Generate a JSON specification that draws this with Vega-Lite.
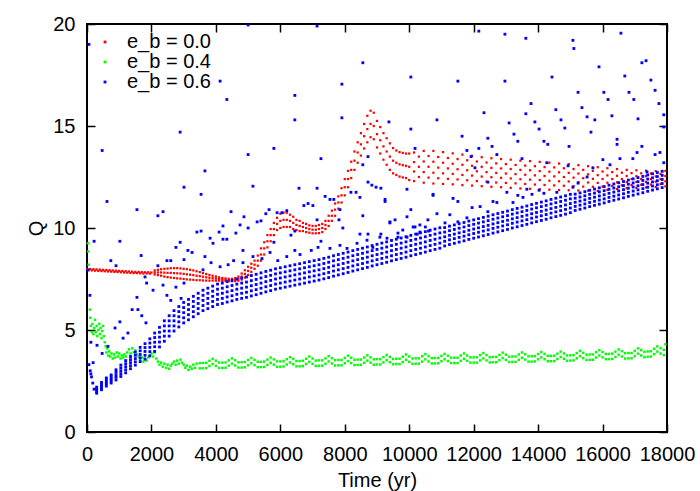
{
"$schema":"https://vega.github.io/schema/vega-lite/v6.json",
"width":580,"height":408,
"autosize":{"type":"none"},
"padding":{"left":87,"top":24,"right":33,"bottom":59},
"background":"white",
"config":{
"view":{"stroke":"black","strokeWidth":2},
"font":"Liberation Sans",
"axis":{"grid":false,"domain":false,"tickColor":"black","tickWidth":1.5,"tickSize":-8,"labelColor":"black","labelFont":"Liberation Sans","labelFontSize":20,"titleFont":"Liberation Sans","titleFontSize":20,"titleFontWeight":"normal","titleColor":"black","labelFlush":false,"labelOverlap":false,"labelBound":false},
"legend":{"orient":"top-left","offset":8,"padding":0,"labelFont":"Liberation Sans","labelFontSize":20,"labelColor":"black","symbolType":"square","symbolSize":8,"symbolStrokeWidth":0,"rowPadding":0,"labelOffset":12}
},
"datasets":{
"r":[
{"t":0,"Q":8.0},{"t":100,"Q":7.99},{"t":200,"Q":7.98},{"t":300,"Q":7.97},{"t":400,"Q":7.96},{"t":500,"Q":7.95},{"t":600,"Q":7.94},{"t":700,"Q":7.93},{"t":800,"Q":7.92},{"t":900,"Q":7.91},{"t":1000,"Q":7.9},{"t":1100,"Q":7.89},{"t":1200,"Q":7.88},{"t":1300,"Q":7.87},{"t":1400,"Q":7.86},{"t":1500,"Q":7.85},{"t":1600,"Q":7.85},{"t":1700,"Q":7.84},{"t":1800,"Q":7.83},{"t":1900,"Q":7.83},{"t":2000,"Q":7.82},
{"t":50,"Q":7.93},{"t":150,"Q":7.92},{"t":250,"Q":7.91},{"t":350,"Q":7.9},{"t":450,"Q":7.89},{"t":550,"Q":7.88},{"t":650,"Q":7.87},{"t":750,"Q":7.86},{"t":850,"Q":7.85},{"t":950,"Q":7.84},{"t":1050,"Q":7.83},{"t":1150,"Q":7.82},{"t":1250,"Q":7.81},{"t":1350,"Q":7.8},{"t":1450,"Q":7.79},{"t":1550,"Q":7.79},{"t":1650,"Q":7.78},{"t":1750,"Q":7.77},{"t":1850,"Q":7.77},{"t":1950,"Q":7.76},
{"t":2100,"Q":7.72},{"t":2100,"Q":7.82},{"t":2100,"Q":7.92},
{"t":2200,"Q":7.69},{"t":2200,"Q":7.82},{"t":2200,"Q":7.95},
{"t":2300,"Q":7.66},{"t":2300,"Q":7.82},{"t":2300,"Q":7.98},
{"t":2400,"Q":7.62},{"t":2400,"Q":7.81},{"t":2400,"Q":8.0},
{"t":2500,"Q":7.59},{"t":2500,"Q":7.8},{"t":2500,"Q":8.01},
{"t":2600,"Q":7.57},{"t":2600,"Q":7.8},{"t":2600,"Q":8.03},
{"t":2700,"Q":7.55},{"t":2700,"Q":7.79},{"t":2700,"Q":8.03},
{"t":2800,"Q":7.53},{"t":2800,"Q":7.78},{"t":2800,"Q":8.03},
{"t":2900,"Q":7.52},{"t":2900,"Q":7.77},{"t":2900,"Q":8.02},
{"t":3000,"Q":7.5},{"t":3000,"Q":7.75},{"t":3000,"Q":8.0},
{"t":3100,"Q":7.48},{"t":3100,"Q":7.73},{"t":3100,"Q":7.98},
{"t":3200,"Q":7.47},{"t":3200,"Q":7.71},{"t":3200,"Q":7.95},
{"t":3300,"Q":7.46},{"t":3300,"Q":7.69},{"t":3300,"Q":7.92},
{"t":3400,"Q":7.44},{"t":3400,"Q":7.66},{"t":3400,"Q":7.88},
{"t":3500,"Q":7.44},{"t":3500,"Q":7.64},{"t":3500,"Q":7.84},
{"t":3600,"Q":7.43},{"t":3600,"Q":7.61},{"t":3600,"Q":7.79},
{"t":3700,"Q":7.42},{"t":3700,"Q":7.58},{"t":3700,"Q":7.74},
{"t":3800,"Q":7.42},{"t":3800,"Q":7.56},{"t":3800,"Q":7.7},
{"t":3900,"Q":7.42},{"t":3900,"Q":7.54},{"t":3900,"Q":7.66},
{"t":4000,"Q":7.42},{"t":4000,"Q":7.52},{"t":4000,"Q":7.62},
{"t":4100,"Q":7.42},{"t":4100,"Q":7.5},{"t":4100,"Q":7.58},
{"t":4200,"Q":7.41},{"t":4200,"Q":7.48},{"t":4200,"Q":7.55},
{"t":4300,"Q":7.41},{"t":4300,"Q":7.47},{"t":4300,"Q":7.53},
{"t":4400,"Q":7.39},{"t":4400,"Q":7.45},{"t":4400,"Q":7.51},
{"t":4500,"Q":7.39},{"t":4500,"Q":7.45},{"t":4500,"Q":7.51},
{"t":4600,"Q":7.4},{"t":4600,"Q":7.47},{"t":4600,"Q":7.54},
{"t":4700,"Q":7.42},{"t":4700,"Q":7.52},{"t":4700,"Q":7.62},
{"t":4800,"Q":7.47},{"t":4800,"Q":7.62},{"t":4800,"Q":7.77},
{"t":4900,"Q":7.57},{"t":4900,"Q":7.75},{"t":4900,"Q":7.93},
{"t":5000,"Q":7.7},{"t":5000,"Q":7.9},{"t":5000,"Q":8.1},
{"t":5100,"Q":7.85},{"t":5100,"Q":8.05},{"t":5100,"Q":8.25},
{"t":5200,"Q":8.0},{"t":5200,"Q":8.2},{"t":5200,"Q":8.4},
{"t":5300,"Q":8.15},{"t":5300,"Q":8.4},{"t":5300,"Q":8.65},
{"t":5400,"Q":8.4},{"t":5400,"Q":8.7},{"t":5400,"Q":9.0},
{"t":5500,"Q":8.7},{"t":5500,"Q":9.0},{"t":5500,"Q":9.3},
{"t":5600,"Q":9.05},{"t":5600,"Q":9.35},{"t":5600,"Q":9.65},
{"t":5700,"Q":9.35},{"t":5700,"Q":9.65},{"t":5700,"Q":9.95},
{"t":5800,"Q":9.65},{"t":5800,"Q":9.95},{"t":5800,"Q":10.25},
{"t":5900,"Q":9.9},{"t":5900,"Q":10.2},{"t":5900,"Q":10.5},
{"t":6000,"Q":10.0},{"t":6000,"Q":10.35},{"t":6000,"Q":10.7},
{"t":6100,"Q":10.05},{"t":6100,"Q":10.4},{"t":6100,"Q":10.75},
{"t":6200,"Q":10.05},{"t":6200,"Q":10.4},{"t":6200,"Q":10.75},
{"t":6300,"Q":10.05},{"t":6300,"Q":10.35},{"t":6300,"Q":10.65},
{"t":6400,"Q":9.95},{"t":6400,"Q":10.25},{"t":6400,"Q":10.55},
{"t":6500,"Q":9.9},{"t":6500,"Q":10.15},{"t":6500,"Q":10.4},
{"t":6600,"Q":9.85},{"t":6600,"Q":10.1},{"t":6600,"Q":10.35},
{"t":6700,"Q":9.85},{"t":6700,"Q":10.05},{"t":6700,"Q":10.25},
{"t":6800,"Q":9.8},{"t":6800,"Q":10.0},{"t":6800,"Q":10.2},
{"t":6900,"Q":9.77},{"t":6900,"Q":9.95},{"t":6900,"Q":10.13},
{"t":7000,"Q":9.74},{"t":7000,"Q":9.92},{"t":7000,"Q":10.1},
{"t":7100,"Q":9.74},{"t":7100,"Q":9.92},{"t":7100,"Q":10.1},
{"t":7200,"Q":9.75},{"t":7200,"Q":9.95},{"t":7200,"Q":10.15},
{"t":7300,"Q":9.8},{"t":7300,"Q":10.0},{"t":7300,"Q":10.2},
{"t":7400,"Q":9.95},{"t":7400,"Q":10.15},{"t":7400,"Q":10.35},
{"t":7500,"Q":10.1},{"t":7500,"Q":10.35},{"t":7500,"Q":10.6},
{"t":7600,"Q":10.35},{"t":7600,"Q":10.6},{"t":7600,"Q":10.85},
{"t":7700,"Q":10.6},{"t":7700,"Q":10.9},{"t":7700,"Q":11.2},
{"t":7800,"Q":10.95},{"t":7800,"Q":11.25},{"t":7800,"Q":11.55},
{"t":7900,"Q":11.25},{"t":7900,"Q":11.6},{"t":7900,"Q":11.95},
{"t":8000,"Q":11.6},{"t":8000,"Q":12.0},{"t":8000,"Q":12.4},
{"t":8100,"Q":12.0},{"t":8100,"Q":12.4},{"t":8100,"Q":12.8},
{"t":8200,"Q":12.45},{"t":8200,"Q":12.85},{"t":8200,"Q":13.25},
{"t":8300,"Q":12.85},{"t":8300,"Q":13.3},{"t":8300,"Q":13.75},
{"t":8400,"Q":13.2},{"t":8400,"Q":13.7},{"t":8400,"Q":14.2},
{"t":8500,"Q":13.55},{"t":8500,"Q":14.1},{"t":8500,"Q":14.65},
{"t":8600,"Q":13.9},{"t":8600,"Q":14.5},{"t":8600,"Q":15.1},
{"t":8700,"Q":14.2},{"t":8700,"Q":14.85},{"t":8700,"Q":15.5},
{"t":8800,"Q":14.45},{"t":8800,"Q":15.1},{"t":8800,"Q":15.75},
{"t":8900,"Q":14.35},{"t":8900,"Q":15.0},{"t":8900,"Q":15.65},
{"t":9000,"Q":13.95},{"t":9000,"Q":14.6},{"t":9000,"Q":15.25},
{"t":9100,"Q":13.65},{"t":9100,"Q":14.3},{"t":9100,"Q":14.95},
{"t":9200,"Q":13.35},{"t":9200,"Q":14.0},{"t":9200,"Q":14.65},
{"t":9300,"Q":13.1},{"t":9300,"Q":13.75},{"t":9300,"Q":14.4},
{"t":9400,"Q":12.85},{"t":9400,"Q":13.5},{"t":9400,"Q":14.15},
{"t":9500,"Q":12.68},{"t":9500,"Q":13.3},{"t":9500,"Q":13.92},
{"t":9600,"Q":12.6},{"t":9600,"Q":13.2},{"t":9600,"Q":13.8},
{"t":9700,"Q":12.52},{"t":9700,"Q":13.12},{"t":9700,"Q":13.72},
{"t":9800,"Q":12.48},{"t":9800,"Q":13.08},{"t":9800,"Q":13.68},
{"t":9900,"Q":12.45},{"t":9900,"Q":13.05},{"t":9900,"Q":13.65},
{"t":10000,"Q":12.35},{"t":10000,"Q":13.0},{"t":10000,"Q":13.65},
{"t":10150,"Q":12.3},{"t":10150,"Q":12.77},{"t":10150,"Q":13.23},{"t":10150,"Q":13.7},
{"t":10300,"Q":12.5},{"t":10300,"Q":13.0},{"t":10300,"Q":13.5},
{"t":10450,"Q":12.22},{"t":10450,"Q":12.74},{"t":10450,"Q":13.26},{"t":10450,"Q":13.78},
{"t":10600,"Q":12.47},{"t":10600,"Q":13.0},{"t":10600,"Q":13.53},
{"t":10750,"Q":12.18},{"t":10750,"Q":12.71},{"t":10750,"Q":13.25},{"t":10750,"Q":13.78},
{"t":10900,"Q":12.44},{"t":10900,"Q":12.96},{"t":10900,"Q":13.48},
{"t":11050,"Q":12.16},{"t":11050,"Q":12.68},{"t":11050,"Q":13.2},{"t":11050,"Q":13.72},
{"t":11200,"Q":12.41},{"t":11200,"Q":12.92},{"t":11200,"Q":13.43},
{"t":11350,"Q":12.14},{"t":11350,"Q":12.65},{"t":11350,"Q":13.15},{"t":11350,"Q":13.66},
{"t":11500,"Q":12.38},{"t":11500,"Q":12.88},{"t":11500,"Q":13.38},
{"t":11650,"Q":12.1},{"t":11650,"Q":12.6},{"t":11650,"Q":13.1},{"t":11650,"Q":13.6},
{"t":11800,"Q":12.34},{"t":11800,"Q":12.83},{"t":11800,"Q":13.32},
{"t":11950,"Q":12.08},{"t":11950,"Q":12.57},{"t":11950,"Q":13.05},{"t":11950,"Q":13.54},
{"t":12100,"Q":12.3},{"t":12100,"Q":12.78},{"t":12100,"Q":13.26},
{"t":12250,"Q":12.05},{"t":12250,"Q":12.52},{"t":12250,"Q":13.0},{"t":12250,"Q":13.47},
{"t":12400,"Q":12.27},{"t":12400,"Q":12.74},{"t":12400,"Q":13.21},
{"t":12550,"Q":12.02},{"t":12550,"Q":12.49},{"t":12550,"Q":12.95},{"t":12550,"Q":13.42},
{"t":12700,"Q":12.23},{"t":12700,"Q":12.7},{"t":12700,"Q":13.17},
{"t":12850,"Q":12.0},{"t":12850,"Q":12.46},{"t":12850,"Q":12.92},{"t":12850,"Q":13.38},
{"t":13000,"Q":12.21},{"t":13000,"Q":12.67},{"t":13000,"Q":13.13},
{"t":13150,"Q":11.97},{"t":13150,"Q":12.43},{"t":13150,"Q":12.89},{"t":13150,"Q":13.35},
{"t":13300,"Q":12.19},{"t":13300,"Q":12.64},{"t":13300,"Q":13.09},
{"t":13450,"Q":11.94},{"t":13450,"Q":12.39},{"t":13450,"Q":12.85},{"t":13450,"Q":13.3},
{"t":13600,"Q":12.16},{"t":13600,"Q":12.61},{"t":13600,"Q":13.06},
{"t":13750,"Q":11.92},{"t":13750,"Q":12.37},{"t":13750,"Q":12.83},{"t":13750,"Q":13.28},
{"t":13900,"Q":12.13},{"t":13900,"Q":12.58},{"t":13900,"Q":13.03},
{"t":14050,"Q":11.9},{"t":14050,"Q":12.35},{"t":14050,"Q":12.79},{"t":14050,"Q":13.24},
{"t":14200,"Q":12.11},{"t":14200,"Q":12.55},{"t":14200,"Q":12.99},
{"t":14350,"Q":11.88},{"t":14350,"Q":12.32},{"t":14350,"Q":12.76},{"t":14350,"Q":13.2},
{"t":14500,"Q":12.09},{"t":14500,"Q":12.53},{"t":14500,"Q":12.97},
{"t":14650,"Q":11.86},{"t":14650,"Q":12.29},{"t":14650,"Q":12.73},{"t":14650,"Q":13.16},
{"t":14800,"Q":12.07},{"t":14800,"Q":12.5},{"t":14800,"Q":12.93},
{"t":14950,"Q":11.85},{"t":14950,"Q":12.28},{"t":14950,"Q":12.7},{"t":14950,"Q":13.13},
{"t":15100,"Q":12.05},{"t":15100,"Q":12.47},{"t":15100,"Q":12.89},
{"t":15250,"Q":11.84},{"t":15250,"Q":12.25},{"t":15250,"Q":12.67},{"t":15250,"Q":13.08},
{"t":15400,"Q":12.03},{"t":15400,"Q":12.44},{"t":15400,"Q":12.85},
{"t":15550,"Q":11.83},{"t":15550,"Q":12.23},{"t":15550,"Q":12.63},{"t":15550,"Q":13.03},
{"t":15700,"Q":12.02},{"t":15700,"Q":12.41},{"t":15700,"Q":12.8},
{"t":15850,"Q":11.82},{"t":15850,"Q":12.21},{"t":15850,"Q":12.59},{"t":15850,"Q":12.98},
{"t":16000,"Q":12.03},{"t":16000,"Q":12.4},{"t":16000,"Q":12.77},
{"t":16150,"Q":11.87},{"t":16150,"Q":12.22},{"t":16150,"Q":12.58},{"t":16150,"Q":12.93},
{"t":16300,"Q":12.06},{"t":16300,"Q":12.4},{"t":16300,"Q":12.74},
{"t":16450,"Q":11.91},{"t":16450,"Q":12.24},{"t":16450,"Q":12.56},{"t":16450,"Q":12.89},
{"t":16600,"Q":12.09},{"t":16600,"Q":12.4},{"t":16600,"Q":12.71},
{"t":16750,"Q":11.95},{"t":16750,"Q":12.25},{"t":16750,"Q":12.55},{"t":16750,"Q":12.85},
{"t":16900,"Q":12.11},{"t":16900,"Q":12.4},{"t":16900,"Q":12.69},
{"t":17050,"Q":11.97},{"t":17050,"Q":12.26},{"t":17050,"Q":12.54},{"t":17050,"Q":12.83},
{"t":17200,"Q":12.12},{"t":17200,"Q":12.4},{"t":17200,"Q":12.68},
{"t":17350,"Q":11.99},{"t":17350,"Q":12.26},{"t":17350,"Q":12.54},{"t":17350,"Q":12.81},
{"t":17500,"Q":12.13},{"t":17500,"Q":12.4},{"t":17500,"Q":12.67},
{"t":17650,"Q":12.01},{"t":17650,"Q":12.27},{"t":17650,"Q":12.53},{"t":17650,"Q":12.79},
{"t":17800,"Q":12.15},{"t":17800,"Q":12.4},{"t":17800,"Q":12.65},
{"t":17950,"Q":12.04},{"t":17950,"Q":12.29},{"t":17950,"Q":12.55},{"t":17950,"Q":12.8}
],
"g":[
{"t":30,"Q":9.25},{"t":40,"Q":8.85},{"t":50,"Q":8.2},{"t":90,"Q":6.0},
{"t":100,"Q":5.6},{"t":120,"Q":5.2},{"t":150,"Q":4.9},{"t":170,"Q":5.3},{"t":200,"Q":4.8},{"t":220,"Q":5.1},{"t":250,"Q":5.5},{"t":270,"Q":4.9},{"t":300,"Q":5.2},{"t":320,"Q":4.7},{"t":350,"Q":5.0},{"t":380,"Q":5.3},{"t":400,"Q":4.8},{"t":420,"Q":5.1},{"t":450,"Q":4.6},{"t":470,"Q":4.95},{"t":500,"Q":5.2},{"t":520,"Q":4.7},{"t":550,"Q":4.4},{"t":580,"Q":4.2},{"t":600,"Q":3.9},{"t":630,"Q":4.1},{"t":660,"Q":3.75},{"t":690,"Q":3.95},{"t":720,"Q":3.7},{"t":760,"Q":3.85},{"t":800,"Q":3.6},{"t":840,"Q":3.8},{"t":880,"Q":3.65},{"t":920,"Q":3.9},{"t":960,"Q":3.7},{"t":1000,"Q":3.85},{"t":1040,"Q":3.6},{"t":1080,"Q":3.75},{"t":1120,"Q":3.65},{"t":1160,"Q":3.8},{"t":1200,"Q":3.7},{"t":1250,"Q":3.9},{"t":1300,"Q":4.05},{"t":1350,"Q":3.85},{"t":1400,"Q":4.1},{"t":1450,"Q":3.9},{"t":1500,"Q":4.0},{"t":1550,"Q":3.8},{"t":1600,"Q":3.7},{"t":1650,"Q":3.55},{"t":1700,"Q":3.65},{"t":1750,"Q":3.45},{"t":1800,"Q":3.6},{"t":1850,"Q":3.5},{"t":1900,"Q":3.65},{"t":1950,"Q":3.75},{"t":2000,"Q":3.85},{"t":2050,"Q":3.7},{"t":2100,"Q":3.9},{"t":2150,"Q":3.6},{"t":2200,"Q":3.45},{"t":2250,"Q":3.3},{"t":2300,"Q":3.4},{"t":2350,"Q":3.2},{"t":2400,"Q":3.35},{"t":2450,"Q":3.15},{"t":2500,"Q":3.3},{"t":2550,"Q":3.1},{"t":2600,"Q":3.25},{"t":2650,"Q":3.35},{"t":2700,"Q":3.45},{"t":2750,"Q":3.3},{"t":2800,"Q":3.5},{"t":2850,"Q":3.35},{"t":2900,"Q":3.55},{"t":2950,"Q":3.4},{"t":3000,"Q":3.3},{"t":3050,"Q":3.15},{"t":3100,"Q":3.25},{"t":3150,"Q":3.05},{"t":3200,"Q":3.2},{"t":3250,"Q":3.1},{"t":3300,"Q":3.3},{"t":3350,"Q":3.15},{"t":3400,"Q":3.35},
{"t":3500,"Q":3.12},{"t":3500,"Q":3.38},{"t":3600,"Q":3.12},{"t":3600,"Q":3.38},{"t":3700,"Q":3.13},{"t":3700,"Q":3.39},{"t":3800,"Q":3.23},{"t":3800,"Q":3.49},{"t":3900,"Q":3.33},{"t":3900,"Q":3.59},{"t":4000,"Q":3.24},{"t":4000,"Q":3.5},{"t":4100,"Q":3.14},{"t":4100,"Q":3.4},{"t":4200,"Q":3.14},{"t":4200,"Q":3.4},{"t":4300,"Q":3.15},{"t":4300,"Q":3.41},{"t":4400,"Q":3.25},{"t":4400,"Q":3.51},{"t":4500,"Q":3.35},{"t":4500,"Q":3.61},{"t":4600,"Q":3.26},{"t":4600,"Q":3.52},{"t":4700,"Q":3.16},{"t":4700,"Q":3.42},{"t":4800,"Q":3.16},{"t":4800,"Q":3.42},{"t":4900,"Q":3.17},{"t":4900,"Q":3.43},
{"t":5000,"Q":3.27},{"t":5000,"Q":3.53},{"t":5100,"Q":3.37},{"t":5100,"Q":3.63},{"t":5200,"Q":3.28},{"t":5200,"Q":3.54},{"t":5300,"Q":3.18},{"t":5300,"Q":3.44},{"t":5400,"Q":3.18},{"t":5400,"Q":3.44},{"t":5500,"Q":3.19},{"t":5500,"Q":3.45},{"t":5600,"Q":3.29},{"t":5600,"Q":3.55},{"t":5700,"Q":3.39},{"t":5700,"Q":3.65},{"t":5800,"Q":3.3},{"t":5800,"Q":3.56},{"t":5900,"Q":3.2},{"t":5900,"Q":3.46},
{"t":6000,"Q":3.2},{"t":6000,"Q":3.46},{"t":6100,"Q":3.21},{"t":6100,"Q":3.47},{"t":6200,"Q":3.31},{"t":6200,"Q":3.57},{"t":6300,"Q":3.41},{"t":6300,"Q":3.67},{"t":6400,"Q":3.32},{"t":6400,"Q":3.58},{"t":6500,"Q":3.22},{"t":6500,"Q":3.48},{"t":6600,"Q":3.22},{"t":6600,"Q":3.48},{"t":6700,"Q":3.23},{"t":6700,"Q":3.49},{"t":6800,"Q":3.33},{"t":6800,"Q":3.59},{"t":6900,"Q":3.44},{"t":6900,"Q":3.7},
{"t":7000,"Q":3.34},{"t":7000,"Q":3.6},{"t":7100,"Q":3.24},{"t":7100,"Q":3.5},{"t":7200,"Q":3.25},{"t":7200,"Q":3.51},{"t":7300,"Q":3.25},{"t":7300,"Q":3.51},{"t":7400,"Q":3.35},{"t":7400,"Q":3.61},{"t":7500,"Q":3.46},{"t":7500,"Q":3.72},{"t":7600,"Q":3.36},{"t":7600,"Q":3.62},{"t":7700,"Q":3.26},{"t":7700,"Q":3.52},{"t":7800,"Q":3.27},{"t":7800,"Q":3.53},{"t":7900,"Q":3.27},{"t":7900,"Q":3.53},
{"t":8000,"Q":3.37},{"t":8000,"Q":3.63},{"t":8100,"Q":3.48},{"t":8100,"Q":3.74},{"t":8200,"Q":3.38},{"t":8200,"Q":3.64},{"t":8300,"Q":3.28},{"t":8300,"Q":3.54},{"t":8400,"Q":3.29},{"t":8400,"Q":3.55},{"t":8500,"Q":3.29},{"t":8500,"Q":3.55},{"t":8600,"Q":3.39},{"t":8600,"Q":3.65},{"t":8700,"Q":3.5},{"t":8700,"Q":3.76},{"t":8800,"Q":3.4},{"t":8800,"Q":3.66},{"t":8900,"Q":3.3},{"t":8900,"Q":3.56},
{"t":9000,"Q":3.31},{"t":9000,"Q":3.57},{"t":9100,"Q":3.31},{"t":9100,"Q":3.57},{"t":9200,"Q":3.41},{"t":9200,"Q":3.67},{"t":9300,"Q":3.52},{"t":9300,"Q":3.78},{"t":9400,"Q":3.42},{"t":9400,"Q":3.68},{"t":9500,"Q":3.32},{"t":9500,"Q":3.58},{"t":9600,"Q":3.33},{"t":9600,"Q":3.59},{"t":9700,"Q":3.33},{"t":9700,"Q":3.59},{"t":9800,"Q":3.43},{"t":9800,"Q":3.69},{"t":9900,"Q":3.54},{"t":9900,"Q":3.8},
{"t":10000,"Q":3.44},{"t":10000,"Q":3.7},{"t":10100,"Q":3.34},{"t":10100,"Q":3.6},{"t":10200,"Q":3.35},{"t":10200,"Q":3.61},{"t":10300,"Q":3.35},{"t":10300,"Q":3.61},{"t":10400,"Q":3.45},{"t":10400,"Q":3.71},{"t":10500,"Q":3.56},{"t":10500,"Q":3.82},{"t":10600,"Q":3.46},{"t":10600,"Q":3.72},{"t":10700,"Q":3.36},{"t":10700,"Q":3.62},{"t":10800,"Q":3.36},{"t":10800,"Q":3.62},{"t":10900,"Q":3.37},{"t":10900,"Q":3.63},
{"t":11000,"Q":3.47},{"t":11000,"Q":3.73},{"t":11100,"Q":3.57},{"t":11100,"Q":3.83},{"t":11200,"Q":3.48},{"t":11200,"Q":3.74},{"t":11300,"Q":3.38},{"t":11300,"Q":3.64},{"t":11400,"Q":3.38},{"t":11400,"Q":3.64},{"t":11500,"Q":3.38},{"t":11500,"Q":3.64},{"t":11600,"Q":3.49},{"t":11600,"Q":3.75},{"t":11700,"Q":3.59},{"t":11700,"Q":3.85},{"t":11800,"Q":3.49},{"t":11800,"Q":3.75},{"t":11900,"Q":3.4},{"t":11900,"Q":3.66},
{"t":12000,"Q":3.4},{"t":12000,"Q":3.66},{"t":12100,"Q":3.4},{"t":12100,"Q":3.66},{"t":12200,"Q":3.51},{"t":12200,"Q":3.77},{"t":12300,"Q":3.61},{"t":12300,"Q":3.87},{"t":12400,"Q":3.51},{"t":12400,"Q":3.77},{"t":12500,"Q":3.41},{"t":12500,"Q":3.67},{"t":12600,"Q":3.42},{"t":12600,"Q":3.68},{"t":12700,"Q":3.42},{"t":12700,"Q":3.68},{"t":12800,"Q":3.52},{"t":12800,"Q":3.78},{"t":12900,"Q":3.63},{"t":12900,"Q":3.89},
{"t":13000,"Q":3.53},{"t":13000,"Q":3.79},{"t":13100,"Q":3.43},{"t":13100,"Q":3.69},{"t":13200,"Q":3.44},{"t":13200,"Q":3.7},{"t":13300,"Q":3.44},{"t":13300,"Q":3.7},{"t":13400,"Q":3.54},{"t":13400,"Q":3.8},{"t":13500,"Q":3.64},{"t":13500,"Q":3.9},{"t":13600,"Q":3.55},{"t":13600,"Q":3.81},{"t":13700,"Q":3.45},{"t":13700,"Q":3.71},{"t":13800,"Q":3.45},{"t":13800,"Q":3.71},{"t":13900,"Q":3.46},{"t":13900,"Q":3.72},
{"t":14000,"Q":3.56},{"t":14000,"Q":3.82},{"t":14100,"Q":3.66},{"t":14100,"Q":3.92},{"t":14200,"Q":3.57},{"t":14200,"Q":3.83},{"t":14300,"Q":3.47},{"t":14300,"Q":3.73},{"t":14400,"Q":3.47},{"t":14400,"Q":3.73},{"t":14500,"Q":3.48},{"t":14500,"Q":3.74},{"t":14600,"Q":3.58},{"t":14600,"Q":3.84},{"t":14700,"Q":3.68},{"t":14700,"Q":3.94},{"t":14800,"Q":3.59},{"t":14800,"Q":3.85},{"t":14900,"Q":3.49},{"t":14900,"Q":3.75},
{"t":15000,"Q":3.5},{"t":15000,"Q":3.76},{"t":15100,"Q":3.51},{"t":15100,"Q":3.77},{"t":15200,"Q":3.61},{"t":15200,"Q":3.87},{"t":15300,"Q":3.72},{"t":15300,"Q":3.98},{"t":15400,"Q":3.62},{"t":15400,"Q":3.88},{"t":15500,"Q":3.53},{"t":15500,"Q":3.79},{"t":15600,"Q":3.54},{"t":15600,"Q":3.8},{"t":15700,"Q":3.54},{"t":15700,"Q":3.8},{"t":15800,"Q":3.65},{"t":15800,"Q":3.91},{"t":15900,"Q":3.75},{"t":15900,"Q":4.01},
{"t":16000,"Q":3.66},{"t":16000,"Q":3.92},{"t":16100,"Q":3.57},{"t":16100,"Q":3.83},{"t":16200,"Q":3.57},{"t":16200,"Q":3.83},{"t":16300,"Q":3.58},{"t":16300,"Q":3.84},{"t":16400,"Q":3.68},{"t":16400,"Q":3.94},{"t":16500,"Q":3.79},{"t":16500,"Q":4.05},{"t":16600,"Q":3.7},{"t":16600,"Q":3.96},{"t":16700,"Q":3.6},{"t":16700,"Q":3.86},{"t":16800,"Q":3.61},{"t":16800,"Q":3.87},{"t":16900,"Q":3.61},{"t":16900,"Q":3.87},
{"t":17000,"Q":3.72},{"t":17000,"Q":3.98},{"t":17100,"Q":3.84},{"t":17100,"Q":4.1},{"t":17200,"Q":3.75},{"t":17200,"Q":4.01},{"t":17300,"Q":3.67},{"t":17300,"Q":3.93},{"t":17400,"Q":3.69},{"t":17400,"Q":3.95},{"t":17500,"Q":3.7},{"t":17500,"Q":3.96},{"t":17600,"Q":3.82},{"t":17600,"Q":4.08},{"t":17700,"Q":3.94},{"t":17700,"Q":4.2},{"t":17800,"Q":3.85},{"t":17800,"Q":4.11},{"t":17900,"Q":3.77},{"t":17900,"Q":4.03},{"t":17950,"Q":4.3}
],
"b":[
{"t":300,"Q":1.9},{"t":300,"Q":1.98},{"t":300,"Q":2.05},{"t":300,"Q":2.13},{"t":300,"Q":2.2},
{"t":450,"Q":2.07},{"t":450,"Q":2.16},{"t":450,"Q":2.25},{"t":450,"Q":2.34},{"t":450,"Q":2.43},
{"t":600,"Q":2.25},{"t":600,"Q":2.35},{"t":600,"Q":2.45},{"t":600,"Q":2.55},{"t":600,"Q":2.65},
{"t":750,"Q":2.4},{"t":750,"Q":2.5},{"t":750,"Q":2.6},{"t":750,"Q":2.7},{"t":750,"Q":2.8},
{"t":900,"Q":2.55},{"t":900,"Q":2.68},{"t":900,"Q":2.8},{"t":900,"Q":2.93},{"t":900,"Q":3.05},
{"t":1050,"Q":2.72},{"t":1050,"Q":2.86},{"t":1050,"Q":3.0},{"t":1050,"Q":3.14},{"t":1050,"Q":3.28},
{"t":1200,"Q":2.9},{"t":1200,"Q":3.05},{"t":1200,"Q":3.2},{"t":1200,"Q":3.35},{"t":1200,"Q":3.5},
{"t":1350,"Q":3.1},{"t":1350,"Q":3.25},{"t":1350,"Q":3.4},{"t":1350,"Q":3.55},{"t":1350,"Q":3.7},
{"t":1500,"Q":3.28},{"t":1500,"Q":3.44},{"t":1500,"Q":3.6},{"t":1500,"Q":3.76},{"t":1500,"Q":3.92},
{"t":1650,"Q":3.45},{"t":1650,"Q":3.63},{"t":1650,"Q":3.8},{"t":1650,"Q":3.98},{"t":1650,"Q":4.15},
{"t":1800,"Q":3.57},{"t":1800,"Q":3.76},{"t":1800,"Q":3.95},{"t":1800,"Q":4.14},{"t":1800,"Q":4.33},
{"t":1950,"Q":3.73},{"t":1950,"Q":3.94},{"t":1950,"Q":4.15},{"t":1950,"Q":4.36},{"t":1950,"Q":4.57},
{"t":2100,"Q":3.95},{"t":2100,"Q":4.18},{"t":2100,"Q":4.4},{"t":2100,"Q":4.63},{"t":2100,"Q":4.85},
{"t":2250,"Q":4.17},{"t":2250,"Q":4.41},{"t":2250,"Q":4.65},{"t":2250,"Q":4.89},{"t":2250,"Q":5.13},
{"t":2400,"Q":4.45},{"t":2400,"Q":4.7},{"t":2400,"Q":4.95},{"t":2400,"Q":5.2},{"t":2400,"Q":5.45},
{"t":2550,"Q":4.7},{"t":2550,"Q":4.95},{"t":2550,"Q":5.2},{"t":2550,"Q":5.45},{"t":2550,"Q":5.7},
{"t":2700,"Q":4.95},{"t":2700,"Q":5.2},{"t":2700,"Q":5.45},{"t":2700,"Q":5.7},{"t":2700,"Q":5.95},
{"t":2850,"Q":5.15},{"t":2850,"Q":5.4},{"t":2850,"Q":5.65},{"t":2850,"Q":5.9},{"t":2850,"Q":6.15},
{"t":3000,"Q":5.35},{"t":3000,"Q":5.6},{"t":3000,"Q":5.85},{"t":3000,"Q":6.1},{"t":3000,"Q":6.35},
{"t":3150,"Q":5.5},{"t":3150,"Q":5.75},{"t":3150,"Q":6.0},{"t":3150,"Q":6.25},{"t":3150,"Q":6.5},
{"t":3300,"Q":5.65},{"t":3300,"Q":5.9},{"t":3300,"Q":6.15},{"t":3300,"Q":6.4},{"t":3300,"Q":6.65},
{"t":3450,"Q":5.8},{"t":3450,"Q":6.05},{"t":3450,"Q":6.3},{"t":3450,"Q":6.55},{"t":3450,"Q":6.8},
{"t":3600,"Q":5.95},{"t":3600,"Q":6.2},{"t":3600,"Q":6.45},{"t":3600,"Q":6.7},{"t":3600,"Q":6.95},
{"t":3750,"Q":6.05},{"t":3750,"Q":6.3},{"t":3750,"Q":6.55},{"t":3750,"Q":6.8},{"t":3750,"Q":7.05},
{"t":3900,"Q":6.15},{"t":3900,"Q":6.4},{"t":3900,"Q":6.65},{"t":3900,"Q":6.9},{"t":3900,"Q":7.15},
{"t":4050,"Q":6.25},{"t":4050,"Q":6.5},{"t":4050,"Q":6.75},{"t":4050,"Q":7.0},{"t":4050,"Q":7.25},
{"t":4200,"Q":6.3},{"t":4200,"Q":6.55},{"t":4200,"Q":6.8},{"t":4200,"Q":7.05},{"t":4200,"Q":7.3},
{"t":4350,"Q":6.37},{"t":4350,"Q":6.62},{"t":4350,"Q":6.87},{"t":4350,"Q":7.12},{"t":4350,"Q":7.37},
{"t":4500,"Q":6.43},{"t":4500,"Q":6.68},{"t":4500,"Q":6.93},{"t":4500,"Q":7.18},{"t":4500,"Q":7.43},
{"t":4650,"Q":6.5},{"t":4650,"Q":6.75},{"t":4650,"Q":7.0},{"t":4650,"Q":7.25},{"t":4650,"Q":7.5},
{"t":4800,"Q":6.55},{"t":4800,"Q":6.8},{"t":4800,"Q":7.05},{"t":4800,"Q":7.3},{"t":4800,"Q":7.55},
{"t":4950,"Q":6.6},{"t":4950,"Q":6.85},{"t":4950,"Q":7.1},{"t":4950,"Q":7.35},{"t":4950,"Q":7.6},
{"t":5100,"Q":6.67},{"t":5100,"Q":6.92},{"t":5100,"Q":7.17},{"t":5100,"Q":7.42},{"t":5100,"Q":7.67},
{"t":5250,"Q":6.73},{"t":5250,"Q":6.98},{"t":5250,"Q":7.23},{"t":5250,"Q":7.48},{"t":5250,"Q":7.73},
{"t":5400,"Q":6.8},{"t":5400,"Q":7.05},{"t":5400,"Q":7.3},{"t":5400,"Q":7.55},{"t":5400,"Q":7.8},
{"t":5550,"Q":6.87},{"t":5550,"Q":7.12},{"t":5550,"Q":7.37},{"t":5550,"Q":7.62},{"t":5550,"Q":7.87},
{"t":5700,"Q":6.93},{"t":5700,"Q":7.18},{"t":5700,"Q":7.43},{"t":5700,"Q":7.68},{"t":5700,"Q":7.93},
{"t":5850,"Q":7.0},{"t":5850,"Q":7.25},{"t":5850,"Q":7.5},{"t":5850,"Q":7.75},{"t":5850,"Q":8.0},
{"t":6000,"Q":7.05},{"t":6000,"Q":7.3},{"t":6000,"Q":7.55},{"t":6000,"Q":7.8},{"t":6000,"Q":8.05},
{"t":6150,"Q":7.1},{"t":6150,"Q":7.35},{"t":6150,"Q":7.6},{"t":6150,"Q":7.85},{"t":6150,"Q":8.1},
{"t":6300,"Q":7.15},{"t":6300,"Q":7.4},{"t":6300,"Q":7.65},{"t":6300,"Q":7.9},{"t":6300,"Q":8.15},
{"t":6450,"Q":7.2},{"t":6450,"Q":7.45},{"t":6450,"Q":7.7},{"t":6450,"Q":7.95},{"t":6450,"Q":8.2},
{"t":6600,"Q":7.25},{"t":6600,"Q":7.5},{"t":6600,"Q":7.75},{"t":6600,"Q":8.0},{"t":6600,"Q":8.25},
{"t":6750,"Q":7.3},{"t":6750,"Q":7.55},{"t":6750,"Q":7.8},{"t":6750,"Q":8.05},{"t":6750,"Q":8.3},
{"t":6900,"Q":7.35},{"t":6900,"Q":7.6},{"t":6900,"Q":7.85},{"t":6900,"Q":8.1},{"t":6900,"Q":8.35},
{"t":7050,"Q":7.4},{"t":7050,"Q":7.65},{"t":7050,"Q":7.9},{"t":7050,"Q":8.15},{"t":7050,"Q":8.4},
{"t":7200,"Q":7.45},{"t":7200,"Q":7.7},{"t":7200,"Q":7.95},{"t":7200,"Q":8.2},{"t":7200,"Q":8.45},
{"t":7350,"Q":7.51},{"t":7350,"Q":7.76},{"t":7350,"Q":8.01},{"t":7350,"Q":8.26},{"t":7350,"Q":8.51},
{"t":7500,"Q":7.57},{"t":7500,"Q":7.82},{"t":7500,"Q":8.07},{"t":7500,"Q":8.32},{"t":7500,"Q":8.57},
{"t":7650,"Q":7.64},{"t":7650,"Q":7.89},{"t":7650,"Q":8.14},{"t":7650,"Q":8.39},{"t":7650,"Q":8.64},
{"t":7800,"Q":7.7},{"t":7800,"Q":7.95},{"t":7800,"Q":8.2},{"t":7800,"Q":8.45},{"t":7800,"Q":8.7},
{"t":7950,"Q":7.76},{"t":7950,"Q":8.01},{"t":7950,"Q":8.26},{"t":7950,"Q":8.51},{"t":7950,"Q":8.76},
{"t":8100,"Q":7.82},{"t":8100,"Q":8.07},{"t":8100,"Q":8.32},{"t":8100,"Q":8.57},{"t":8100,"Q":8.82},
{"t":8250,"Q":7.89},{"t":8250,"Q":8.14},{"t":8250,"Q":8.39},{"t":8250,"Q":8.64},{"t":8250,"Q":8.89},
{"t":8400,"Q":7.95},{"t":8400,"Q":8.2},{"t":8400,"Q":8.45},{"t":8400,"Q":8.7},{"t":8400,"Q":8.95},
{"t":8550,"Q":8.01},{"t":8550,"Q":8.26},{"t":8550,"Q":8.51},{"t":8550,"Q":8.76},{"t":8550,"Q":9.01},
{"t":8700,"Q":8.07},{"t":8700,"Q":8.32},{"t":8700,"Q":8.57},{"t":8700,"Q":8.82},{"t":8700,"Q":9.07},
{"t":8850,"Q":8.14},{"t":8850,"Q":8.39},{"t":8850,"Q":8.64},{"t":8850,"Q":8.89},{"t":8850,"Q":9.14},
{"t":9000,"Q":8.2},{"t":9000,"Q":8.45},{"t":9000,"Q":8.7},{"t":9000,"Q":8.95},{"t":9000,"Q":9.2},
{"t":9150,"Q":8.26},{"t":9150,"Q":8.51},{"t":9150,"Q":8.76},{"t":9150,"Q":9.01},{"t":9150,"Q":9.26},
{"t":9300,"Q":8.32},{"t":9300,"Q":8.57},{"t":9300,"Q":8.82},{"t":9300,"Q":9.07},{"t":9300,"Q":9.32},
{"t":9450,"Q":8.39},{"t":9450,"Q":8.64},{"t":9450,"Q":8.89},{"t":9450,"Q":9.14},{"t":9450,"Q":9.39},
{"t":9600,"Q":8.45},{"t":9600,"Q":8.7},{"t":9600,"Q":8.95},{"t":9600,"Q":9.2},{"t":9600,"Q":9.45},
{"t":9750,"Q":8.51},{"t":9750,"Q":8.76},{"t":9750,"Q":9.01},{"t":9750,"Q":9.26},{"t":9750,"Q":9.51},
{"t":9900,"Q":8.57},{"t":9900,"Q":8.82},{"t":9900,"Q":9.07},{"t":9900,"Q":9.32},{"t":9900,"Q":9.57},
{"t":10050,"Q":8.64},{"t":10050,"Q":8.89},{"t":10050,"Q":9.14},{"t":10050,"Q":9.39},{"t":10050,"Q":9.64},
{"t":10200,"Q":8.7},{"t":10200,"Q":8.95},{"t":10200,"Q":9.2},{"t":10200,"Q":9.45},{"t":10200,"Q":9.7},
{"t":10350,"Q":8.76},{"t":10350,"Q":9.01},{"t":10350,"Q":9.26},{"t":10350,"Q":9.51},{"t":10350,"Q":9.76},
{"t":10500,"Q":8.82},{"t":10500,"Q":9.07},{"t":10500,"Q":9.32},{"t":10500,"Q":9.57},{"t":10500,"Q":9.82},
{"t":10650,"Q":8.89},{"t":10650,"Q":9.14},{"t":10650,"Q":9.39},{"t":10650,"Q":9.64},{"t":10650,"Q":9.89},
{"t":10800,"Q":8.95},{"t":10800,"Q":9.2},{"t":10800,"Q":9.45},{"t":10800,"Q":9.7},{"t":10800,"Q":9.95},
{"t":10950,"Q":9.01},{"t":10950,"Q":9.26},{"t":10950,"Q":9.51},{"t":10950,"Q":9.76},{"t":10950,"Q":10.01},
{"t":11100,"Q":9.12},{"t":11100,"Q":9.35},{"t":11100,"Q":9.57},{"t":11100,"Q":9.8},{"t":11100,"Q":10.02},
{"t":11250,"Q":9.19},{"t":11250,"Q":9.42},{"t":11250,"Q":9.64},{"t":11250,"Q":9.87},{"t":11250,"Q":10.09},
{"t":11400,"Q":9.25},{"t":11400,"Q":9.48},{"t":11400,"Q":9.7},{"t":11400,"Q":9.93},{"t":11400,"Q":10.15},
{"t":11550,"Q":9.31},{"t":11550,"Q":9.54},{"t":11550,"Q":9.76},{"t":11550,"Q":9.99},{"t":11550,"Q":10.21},
{"t":11700,"Q":9.37},{"t":11700,"Q":9.6},{"t":11700,"Q":9.82},{"t":11700,"Q":10.05},{"t":11700,"Q":10.27},
{"t":11850,"Q":9.44},{"t":11850,"Q":9.67},{"t":11850,"Q":9.89},{"t":11850,"Q":10.12},{"t":11850,"Q":10.34},
{"t":12000,"Q":9.5},{"t":12000,"Q":9.73},{"t":12000,"Q":9.95},{"t":12000,"Q":10.18},{"t":12000,"Q":10.4},
{"t":12150,"Q":9.56},{"t":12150,"Q":9.79},{"t":12150,"Q":10.01},{"t":12150,"Q":10.24},{"t":12150,"Q":10.46},
{"t":12300,"Q":9.62},{"t":12300,"Q":9.85},{"t":12300,"Q":10.07},{"t":12300,"Q":10.3},{"t":12300,"Q":10.52},
{"t":12450,"Q":9.68},{"t":12450,"Q":9.91},{"t":12450,"Q":10.13},{"t":12450,"Q":10.36},{"t":12450,"Q":10.58},
{"t":12600,"Q":9.75},{"t":12600,"Q":9.98},{"t":12600,"Q":10.2},{"t":12600,"Q":10.43},{"t":12600,"Q":10.65},
{"t":12750,"Q":9.81},{"t":12750,"Q":10.04},{"t":12750,"Q":10.26},{"t":12750,"Q":10.49},{"t":12750,"Q":10.71},
{"t":12900,"Q":9.87},{"t":12900,"Q":10.1},{"t":12900,"Q":10.32},{"t":12900,"Q":10.55},{"t":12900,"Q":10.77},
{"t":13050,"Q":9.93},{"t":13050,"Q":10.16},{"t":13050,"Q":10.38},{"t":13050,"Q":10.61},{"t":13050,"Q":10.83},
{"t":13200,"Q":10.0},{"t":13200,"Q":10.23},{"t":13200,"Q":10.45},{"t":13200,"Q":10.68},{"t":13200,"Q":10.9},
{"t":13350,"Q":10.06},{"t":13350,"Q":10.29},{"t":13350,"Q":10.51},{"t":13350,"Q":10.74},{"t":13350,"Q":10.96},
{"t":13500,"Q":10.12},{"t":13500,"Q":10.35},{"t":13500,"Q":10.57},{"t":13500,"Q":10.8},{"t":13500,"Q":11.02},
{"t":13650,"Q":10.18},{"t":13650,"Q":10.41},{"t":13650,"Q":10.63},{"t":13650,"Q":10.86},{"t":13650,"Q":11.08},
{"t":13800,"Q":10.25},{"t":13800,"Q":10.48},{"t":13800,"Q":10.7},{"t":13800,"Q":10.93},{"t":13800,"Q":11.15},
{"t":13950,"Q":10.31},{"t":13950,"Q":10.54},{"t":13950,"Q":10.76},{"t":13950,"Q":10.99},{"t":13950,"Q":11.21},
{"t":14100,"Q":10.37},{"t":14100,"Q":10.6},{"t":14100,"Q":10.82},{"t":14100,"Q":11.05},{"t":14100,"Q":11.27},
{"t":14250,"Q":10.43},{"t":14250,"Q":10.66},{"t":14250,"Q":10.88},{"t":14250,"Q":11.11},{"t":14250,"Q":11.33},
{"t":14400,"Q":10.5},{"t":14400,"Q":10.73},{"t":14400,"Q":10.95},{"t":14400,"Q":11.18},{"t":14400,"Q":11.4},
{"t":14550,"Q":10.56},{"t":14550,"Q":10.79},{"t":14550,"Q":11.01},{"t":14550,"Q":11.24},{"t":14550,"Q":11.46},
{"t":14700,"Q":10.62},{"t":14700,"Q":10.85},{"t":14700,"Q":11.07},{"t":14700,"Q":11.3},{"t":14700,"Q":11.52},
{"t":14850,"Q":10.68},{"t":14850,"Q":10.91},{"t":14850,"Q":11.13},{"t":14850,"Q":11.36},{"t":14850,"Q":11.58},
{"t":15000,"Q":10.75},{"t":15000,"Q":10.98},{"t":15000,"Q":11.2},{"t":15000,"Q":11.43},{"t":15000,"Q":11.65},
{"t":15150,"Q":10.86},{"t":15150,"Q":11.06},{"t":15150,"Q":11.26},{"t":15150,"Q":11.46},{"t":15150,"Q":11.66},
{"t":15300,"Q":10.92},{"t":15300,"Q":11.12},{"t":15300,"Q":11.32},{"t":15300,"Q":11.52},{"t":15300,"Q":11.72},
{"t":15450,"Q":10.98},{"t":15450,"Q":11.18},{"t":15450,"Q":11.38},{"t":15450,"Q":11.58},{"t":15450,"Q":11.78},
{"t":15600,"Q":11.05},{"t":15600,"Q":11.25},{"t":15600,"Q":11.45},{"t":15600,"Q":11.65},{"t":15600,"Q":11.85},
{"t":15750,"Q":11.11},{"t":15750,"Q":11.31},{"t":15750,"Q":11.51},{"t":15750,"Q":11.71},{"t":15750,"Q":11.91},
{"t":15900,"Q":11.17},{"t":15900,"Q":11.37},{"t":15900,"Q":11.57},{"t":15900,"Q":11.77},{"t":15900,"Q":11.97},
{"t":16050,"Q":11.23},{"t":16050,"Q":11.43},{"t":16050,"Q":11.63},{"t":16050,"Q":11.83},{"t":16050,"Q":12.03},
{"t":16200,"Q":11.3},{"t":16200,"Q":11.5},{"t":16200,"Q":11.7},{"t":16200,"Q":11.9},{"t":16200,"Q":12.1},
{"t":16350,"Q":11.36},{"t":16350,"Q":11.56},{"t":16350,"Q":11.76},{"t":16350,"Q":11.96},{"t":16350,"Q":12.16},
{"t":16500,"Q":11.42},{"t":16500,"Q":11.62},{"t":16500,"Q":11.82},{"t":16500,"Q":12.02},{"t":16500,"Q":12.22},
{"t":16650,"Q":11.48},{"t":16650,"Q":11.68},{"t":16650,"Q":11.88},{"t":16650,"Q":12.08},{"t":16650,"Q":12.28},
{"t":16800,"Q":11.55},{"t":16800,"Q":11.75},{"t":16800,"Q":11.95},{"t":16800,"Q":12.15},{"t":16800,"Q":12.35},
{"t":16950,"Q":11.61},{"t":16950,"Q":11.81},{"t":16950,"Q":12.01},{"t":16950,"Q":12.21},{"t":16950,"Q":12.41},
{"t":17100,"Q":11.67},{"t":17100,"Q":11.87},{"t":17100,"Q":12.07},{"t":17100,"Q":12.27},{"t":17100,"Q":12.47},
{"t":17250,"Q":11.73},{"t":17250,"Q":11.93},{"t":17250,"Q":12.13},{"t":17250,"Q":12.33},{"t":17250,"Q":12.53},
{"t":17400,"Q":11.8},{"t":17400,"Q":12.0},{"t":17400,"Q":12.2},{"t":17400,"Q":12.4},{"t":17400,"Q":12.6},
{"t":17550,"Q":11.86},{"t":17550,"Q":12.06},{"t":17550,"Q":12.26},{"t":17550,"Q":12.46},{"t":17550,"Q":12.66},
{"t":17700,"Q":11.92},{"t":17700,"Q":12.12},{"t":17700,"Q":12.32},{"t":17700,"Q":12.52},{"t":17700,"Q":12.72},
{"t":17850,"Q":11.98},{"t":17850,"Q":12.18},{"t":17850,"Q":12.38},{"t":17850,"Q":12.58},{"t":17850,"Q":12.78},
{"t":60,"Q":3.3},{"t":100,"Q":3.0},{"t":140,"Q":2.7},{"t":180,"Q":2.4},{"t":220,"Q":2.1},{"t":120,"Q":2.85},
{"t":30,"Q":7.95},{"t":60,"Q":19.0},{"t":90,"Q":6.7},{"t":120,"Q":4.4},{"t":190,"Q":3.4},{"t":220,"Q":9.35},{"t":310,"Q":4.25},{"t":470,"Q":13.8},{"t":470,"Q":3.85},{"t":620,"Q":11.3},{"t":650,"Q":4.2},{"t":740,"Q":8.4},{"t":870,"Q":5.1},{"t":900,"Q":8.15},{"t":1020,"Q":9.35},{"t":1020,"Q":5.4},{"t":1120,"Q":4.6},{"t":1270,"Q":4.85},{"t":1400,"Q":6.0},{"t":1550,"Q":10.9},{"t":1550,"Q":6.6},{"t":1580,"Q":6.0},{"t":1680,"Q":8.65},{"t":1700,"Q":5.7},{"t":1800,"Q":7.6},{"t":1830,"Q":5.35},{"t":1850,"Q":7.3},{"t":2050,"Q":6.95},{"t":2200,"Q":10.6},{"t":2200,"Q":8.15},{"t":2360,"Q":10.8},{"t":2360,"Q":7.2},{"t":2480,"Q":8.4},{"t":2480,"Q":6.7},{"t":2600,"Q":8.4},{"t":2600,"Q":6.45},{"t":2760,"Q":9.05},{"t":2760,"Q":7.1},{"t":2890,"Q":14.7},{"t":2890,"Q":9.3},{"t":2920,"Q":6.55},{"t":3010,"Q":12.0},{"t":3010,"Q":8.45},{"t":3010,"Q":7.3},{"t":3130,"Q":8.9},{"t":3260,"Q":8.8},{"t":3410,"Q":9.8},{"t":3540,"Q":11.65},{"t":3540,"Q":9.85},{"t":3600,"Q":7.95},{"t":3660,"Q":12.8},{"t":3660,"Q":8.6},{"t":3820,"Q":9.5},{"t":3850,"Q":8.3},{"t":3910,"Q":9.25},{"t":4100,"Q":9.8},{"t":4130,"Q":17.2},{"t":4130,"Q":8.1},{"t":4220,"Q":10.1},{"t":4220,"Q":9.45},{"t":4340,"Q":16.3},{"t":4340,"Q":9.45},{"t":4380,"Q":8.2},{"t":4470,"Q":10.8},{"t":4550,"Q":8.4},{"t":4620,"Q":9.75},{"t":4750,"Q":10.15},{"t":4840,"Q":8.9},{"t":4870,"Q":10.55},{"t":4840,"Q":8.3},
{"t":5000,"Q":19.95},{"t":5000,"Q":13.6},{"t":5000,"Q":10.0},{"t":5150,"Q":12.05},{"t":5150,"Q":8.6},{"t":5280,"Q":10.3},{"t":5400,"Q":10.35},{"t":5430,"Q":8.5},{"t":5550,"Q":10.7},{"t":5650,"Q":10.9},{"t":5680,"Q":8.8},{"t":5800,"Q":13.9},{"t":5800,"Q":9.3},{"t":5900,"Q":10.75},{"t":5920,"Q":8.4},{"t":6050,"Q":10.75},{"t":6200,"Q":10.85},{"t":6200,"Q":8.6},{"t":6330,"Q":9.65},{"t":6450,"Q":16.5},{"t":6450,"Q":15.3},{"t":6450,"Q":9.85},{"t":6450,"Q":8.9},{"t":6580,"Q":11.95},{"t":6610,"Q":8.7},{"t":6730,"Q":11.1},{"t":6860,"Q":11.2},{"t":6960,"Q":8.9},{"t":7010,"Q":11.1},{"t":7140,"Q":19.9},{"t":7140,"Q":11.95},{"t":7140,"Q":10.4},{"t":7170,"Q":9.05},{"t":7260,"Q":13.4},{"t":7260,"Q":9.35},{"t":7390,"Q":11.55},{"t":7540,"Q":11.4},{"t":7540,"Q":9.0},{"t":7660,"Q":11.4},{"t":7820,"Q":10.4},{"t":7850,"Q":10.9},{"t":7850,"Q":9.15},{"t":7910,"Q":17.05},{"t":7910,"Q":15.4},{"t":7940,"Q":10.0},{"t":8070,"Q":9.0},{"t":8190,"Q":11.75},{"t":8350,"Q":11.75},{"t":8380,"Q":9.25},{"t":8470,"Q":11.5},{"t":8470,"Q":9.7},{"t":8560,"Q":18.1},{"t":8560,"Q":13.1},{"t":8560,"Q":10.6},{"t":8690,"Q":9.4},{"t":8720,"Q":13.5},{"t":8720,"Q":12.25},{"t":8720,"Q":9.7},{"t":8840,"Q":12.1},{"t":8870,"Q":9.05},{"t":8970,"Q":12.0},{"t":9090,"Q":9.55},{"t":9120,"Q":11.95},{"t":9120,"Q":9.7},{"t":9250,"Q":11.4},{"t":9250,"Q":11.3},{"t":9310,"Q":9.5},{"t":9370,"Q":15.2},{"t":9400,"Q":10.3},{"t":9400,"Q":10.25},{"t":9560,"Q":10.4},{"t":9650,"Q":9.55},{"t":9650,"Q":9.75},
{"t":9800,"Q":9.9},{"t":9930,"Q":11.9},{"t":9930,"Q":10.55},{"t":9930,"Q":9.55},{"t":10050,"Q":17.4},{"t":10050,"Q":14.85},{"t":10050,"Q":10.9},{"t":10120,"Q":10.05},{"t":10180,"Q":13.9},{"t":10180,"Q":10.05},{"t":10250,"Q":9.7},{"t":10330,"Q":9.8},{"t":10330,"Q":10.15},{"t":10500,"Q":10.05},{"t":10580,"Q":10.4},{"t":10600,"Q":9.85},{"t":10740,"Q":11.6},{"t":10740,"Q":11.65},{"t":10860,"Q":15.3},{"t":10860,"Q":10.7},{"t":11110,"Q":10.25},{"t":11260,"Q":10.65},{"t":11360,"Q":11.45},{"t":11510,"Q":17.2},{"t":11510,"Q":11.3},{"t":11510,"Q":10.3},{"t":11640,"Q":14.5},{"t":11790,"Q":13.8},{"t":11790,"Q":10.5},{"t":11920,"Q":13.5},{"t":11950,"Q":11.0},{"t":12040,"Q":12.95},{"t":12160,"Q":19.65},{"t":12160,"Q":13.9},{"t":12200,"Q":11.05},{"t":12320,"Q":15.65},{"t":12440,"Q":14.4},{"t":12440,"Q":12.25},{"t":12440,"Q":10.8},{"t":12570,"Q":14.0},{"t":12600,"Q":11.3},{"t":12720,"Q":13.6},{"t":12720,"Q":11.25},{"t":12970,"Q":19.5},{"t":12970,"Q":17.2},{"t":13030,"Q":11.75},{"t":13100,"Q":15.15},{"t":13220,"Q":11.25},{"t":13250,"Q":14.6},{"t":13370,"Q":14.25},{"t":13370,"Q":11.6},{"t":13500,"Q":13.4},{"t":13530,"Q":11.5},{"t":13620,"Q":19.3},{"t":13620,"Q":15.6},{"t":13650,"Q":11.9},{"t":13780,"Q":16.1},{"t":13810,"Q":11.65},{"t":13900,"Q":15.2},{"t":14030,"Q":14.85},{"t":14030,"Q":11.85},{"t":14180,"Q":14.25},{"t":14180,"Q":11.7},{"t":14270,"Q":13.2},{"t":14300,"Q":14.1},{"t":14430,"Q":17.4},{"t":14550,"Q":15.8},{"t":14580,"Q":11.75},{"t":14710,"Q":15.3},{"t":14830,"Q":14.9},{"t":14930,"Q":13.05},{"t":14960,"Q":14.0},{"t":15080,"Q":19.2},{"t":15080,"Q":12.0},{"t":15110,"Q":18.8},{"t":15240,"Q":16.65},{"t":15240,"Q":12.2},{"t":15360,"Q":15.9},{"t":15520,"Q":15.45},{"t":15520,"Q":12.5},{"t":15640,"Q":14.7},{"t":15700,"Q":12.95},{"t":15760,"Q":15.3},{"t":15890,"Q":17.9},{"t":16010,"Q":13.35},{"t":16040,"Q":16.65},{"t":16170,"Q":16.3},{"t":16230,"Q":13.1},{"t":16290,"Q":15.5},{"t":16450,"Q":14.35},{"t":16450,"Q":14.1},{"t":16540,"Q":13.4},{"t":16570,"Q":19.55},{"t":16690,"Q":17.45},{"t":16820,"Q":16.65},{"t":16940,"Q":13.4},{"t":16970,"Q":16.3},{"t":17070,"Q":13.7},{"t":17100,"Q":15.35},{"t":17220,"Q":14.0},{"t":17220,"Q":18.1},{"t":17350,"Q":18.2},{"t":17380,"Q":12.75},{"t":17500,"Q":17.25},{"t":17630,"Q":16.75},{"t":17630,"Q":13.6},{"t":17750,"Q":16.1},{"t":17780,"Q":13.7},{"t":17900,"Q":15.55},{"t":17900,"Q":14.95},{"t":17900,"Q":13.2}
]
},
"layer":[
{"data":{"name":"r"},
 "mark":{"type":"square","size":5,"opacity":1,"strokeWidth":0},
 "encoding":{
  "x":{"field":"t","type":"quantitative","scale":{"domain":[0,18000],"nice":false,"zero":false},"axis":{"orient":"bottom","values":[0,2000,4000,6000,8000,10000,12000,14000,16000,18000],"format":"d","title":"Time (yr)","labelPadding":20,"titlePadding":6}},
  "y":{"field":"Q","type":"quantitative","scale":{"domain":[0,20],"nice":false},"axis":{"orient":"left","values":[0,5,10,15,20],"format":"d","title":"Q","labelPadding":20,"titlePadding":6}},
  "color":{"datum":"e_b = 0.0","type":"nominal","scale":{"domain":["e_b = 0.0","e_b = 0.4","e_b = 0.6"],"range":["#ff0000","#00ff00","#0000ff"]},"legend":{"title":null,"labelFontSize":20,"labelFont":"Liberation Sans"}}
 }},
{"data":{"name":"g"},
 "mark":{"type":"square","size":6,"opacity":1,"strokeWidth":0},
 "encoding":{
  "x":{"field":"t","type":"quantitative","axis":{"orient":"top","values":[0,2000,4000,6000,8000,10000,12000,14000,16000,18000],"labels":false,"title":null}},
  "y":{"field":"Q","type":"quantitative","axis":{"orient":"right","values":[0,5,10,15,20],"labels":false,"title":null}},
  "color":{"datum":"e_b = 0.4","type":"nominal"}
 }},
{"data":{"name":"b"},
 "mark":{"type":"square","size":8,"opacity":1,"strokeWidth":0},
 "encoding":{
  "x":{"field":"t","type":"quantitative","axis":null},
  "y":{"field":"Q","type":"quantitative","axis":null},
  "color":{"datum":"e_b = 0.6","type":"nominal"}
 }}
],
"resolve":{"axis":{"x":"independent","y":"independent"}}
}
